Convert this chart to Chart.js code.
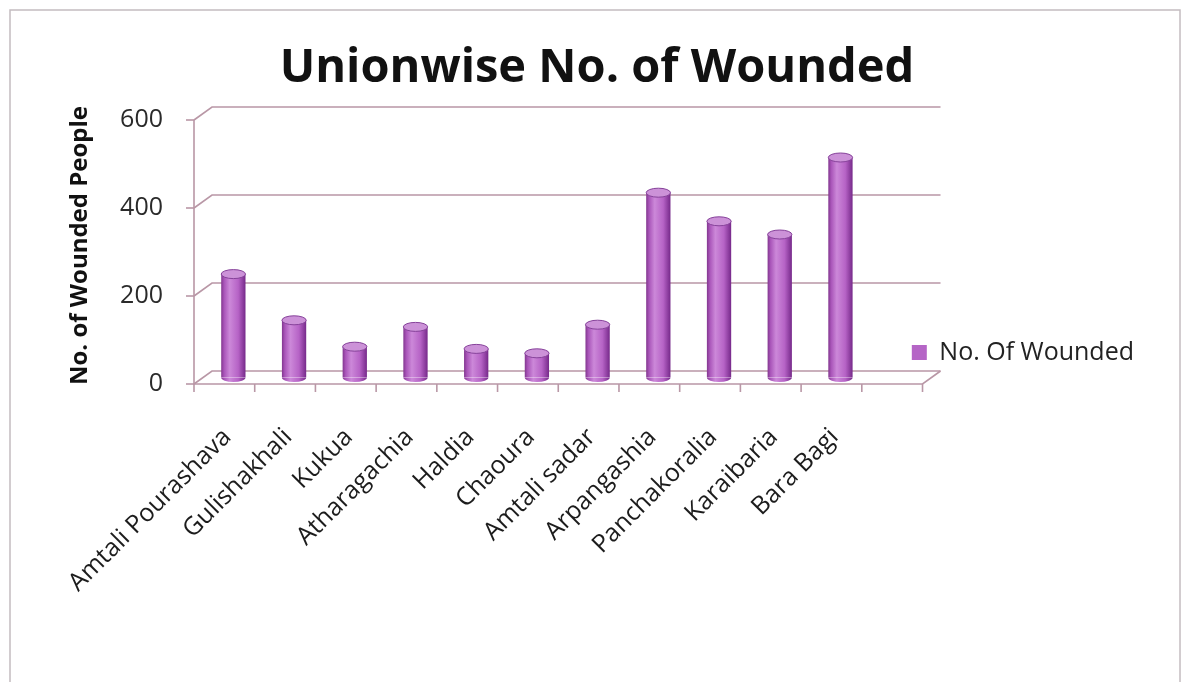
<!DOCTYPE html>
<html>
<head>
<meta charset="utf-8">
<script src="https://cdn.jsdelivr.net/npm/chart.js@4/dist/chart.umd.min.js"></script>
<style>
  html, body { margin: 0; padding: 0; background: #fff; }
  #wrap { width: 1181px; height: 682px; }
</style>
</head>
<body>
<div id="wrap"><canvas id="chart" width="1181" height="682"></canvas></div>
<script>
// data
let unions = ['Amtali Pourashava', 'Gulishakhali', 'Kukua', 'Atharagachia', 'Haldia', 'Chaoura',
              'Amtali sadar', 'Arpangashia', 'Panchakoralia', 'Karaibaria', 'Bara Bagi']
let wounded = [235, 130, 70, 115, 65, 55, 120, 420, 355, 325, 500]
let yTicks = [0, 200, 400, 600]

let barMid = '#b565c6'
let gridColor = '#b997a6'
// depth of the fake 3d box (mid plane is the chart area)
let DX = 9, DY = 6.5

Chart.defaults.font.family = "'Open Sans', sans-serif"
Chart.defaults.color = '#1c1c1c'

function slotWidth(chart) {
    let xs = chart.scales.x
    return xs.getPixelForValue(1) - xs.getPixelForValue(0)
}

function cylGradient(c, x0, x1) {
    let g = c.createLinearGradient(x0, 0, x1, 0)
    g.addColorStop(0, '#82368f')
    g.addColorStop(0.12, '#a955b9')
    g.addColorStop(0.35, '#cc88d9')
    g.addColorStop(0.7, '#b663c6')
    g.addColorStop(1, '#76298a')
    return g
}

// frame, back wall, floor and the front axis
const box3d = {
    id: 'box3d',
    beforeDraw(chart) {
        let c = chart.ctx
        c.save()
        c.fillStyle = '#fff'
        c.fillRect(0, 0, chart.width, chart.height)
        c.strokeStyle = '#c4bcc0'
        c.lineWidth = 1.5
        c.strokeRect(10, 10, 1170, 700)
        c.restore()
    },
    beforeDatasetsDraw(chart) {
        let c = chart.ctx, ys = chart.scales.y
        let L = chart.chartArea.left
        let slot = slotWidth(chart)
        let R = chart.chartArea.right + slot // one empty slot at the end
        c.save()
        c.strokeStyle = gridColor
        c.lineWidth = 1.6
        yTicks.forEach(v => {
            let y = ys.getPixelForValue(v)
            c.beginPath()
            c.moveTo(L - DX, y + DY)
            c.lineTo(L + DX, y - DY)
            c.lineTo(R + DX, y - DY)
            c.stroke()
            // tick on front axis
            c.beginPath()
            c.moveTo(L - DX - 8, y + DY)
            c.lineTo(L - DX, y + DY)
            c.stroke()
        })
        let y0 = ys.getPixelForValue(0), yTop = ys.getPixelForValue(600)
        c.beginPath()
        c.moveTo(L - DX, yTop + DY)
        c.lineTo(L - DX, y0 + DY)
        c.lineTo(R - DX, y0 + DY)
        c.lineTo(R + DX, y0 - DY)
        c.stroke()
        for (let i = 0; i <= unions.length + 1; i++) {
            let x = L - DX + i * slot
            c.beginPath()
            c.moveTo(x, y0 + DY)
            c.lineTo(x, y0 + DY + 8)
            c.stroke()
        }
        c.restore()
    },
    afterDatasetsDraw(chart) {
        let c = chart.ctx
        let meta = chart.getDatasetMeta(0)
        c.save()
        meta.data.forEach(bar => {
            let p = bar.getProps(['x', 'y', 'base', 'width'], true)
            let rx = p.width / 2, ry = 4.5
            c.fillStyle = cylGradient(c, p.x - rx, p.x + rx)
            c.beginPath()
            c.ellipse(p.x, p.base, rx, ry, 0, 0, Math.PI)
            c.fill()
            c.beginPath()
            c.ellipse(p.x, p.y, rx, ry, 0, 0, Math.PI * 2)
            c.fillStyle = '#cc92d8'
            c.fill()
            c.strokeStyle = '#86429a'
            c.lineWidth = 1
            c.stroke()
        })
        c.restore()
    }
}

new Chart(document.getElementById('chart'), {
    type: 'bar',
    data: {
        labels: unions,
        datasets: [{
            label: 'No. Of Wounded',
            data: wounded,
            backgroundColor: ctx => {
                let chart = ctx.chart, xs = chart.scales.x
                if (ctx.type !== 'data' || !xs || !chart.chartArea) return barMid
                let cx = xs.getPixelForValue(ctx.dataIndex)
                let half = slotWidth(chart) * 0.4 / 2
                if (!isFinite(cx) || !isFinite(half) || half <= 0) return barMid
                return cylGradient(chart.ctx, cx - half, cx + half)
            },
            borderWidth: 0,
            barPercentage: 0.4,
            categoryPercentage: 1
        }]
    },
    options: {
        responsive: false,
        animation: false,
        layout: { padding: { top: 10, left: 50, right: 37, bottom: 0 } },
        scales: {
            x: {
                grid: { display: false },
                border: { display: false },
                ticks: {
                    minRotation: 45, maxRotation: 45,
                    autoSkip: false,
                    labelOffset: -6,
                    padding: 37,
                    font: { size: 25 },
                    color: '#1c1c1c'
                },
                afterFit: s => { s.height = 304.5 }
            },
            y: {
                min: 0, max: 600,
                grid: { display: false },
                border: { display: false },
                afterBuildTicks: s => { s.ticks = yTicks.map(v => ({ value: v })) },
                ticks: {
                    padding: 32,
                    labelOffset: 6.5,
                    font: { size: 25 },
                    color: '#2a2a2a'
                },
                title: {
                    display: true,
                    text: 'No. of Wounded People',
                    font: { size: 24, weight: 'bold' },
                    color: '#111',
                    padding: { top: 16, bottom: 10 }
                },
                afterFit: s => { s.width = 153 }
            }
        },
        plugins: {
            title: {
                display: true,
                text: 'Unionwise No. of Wounded',
                font: { size: 47, weight: 'bold' },
                color: '#111',
                padding: { top: 30, bottom: 17.1 }
            },
            legend: {
                position: 'right',
                fullSize: false,
                align: 'start',
                title: { display: true, text: ' ', font: { size: 12 }, padding: { top: 0, bottom: 171 } },
                labels: {
                    boxWidth: 15, boxHeight: 15,
                    padding: 41,
                    font: { size: 25 },
                    color: '#222',
                    generateLabels: chart => {
                        let items = Chart.defaults.plugins.legend.labels.generateLabels(chart)
                        items.forEach(it => { it.fillStyle = barMid; it.strokeStyle = barMid; it.lineWidth = 0 })
                        return items
                    }
                }
            },
            tooltip: { enabled: false }
        }
    },
    plugins: [box3d]
})
</script>
</body>
</html>
